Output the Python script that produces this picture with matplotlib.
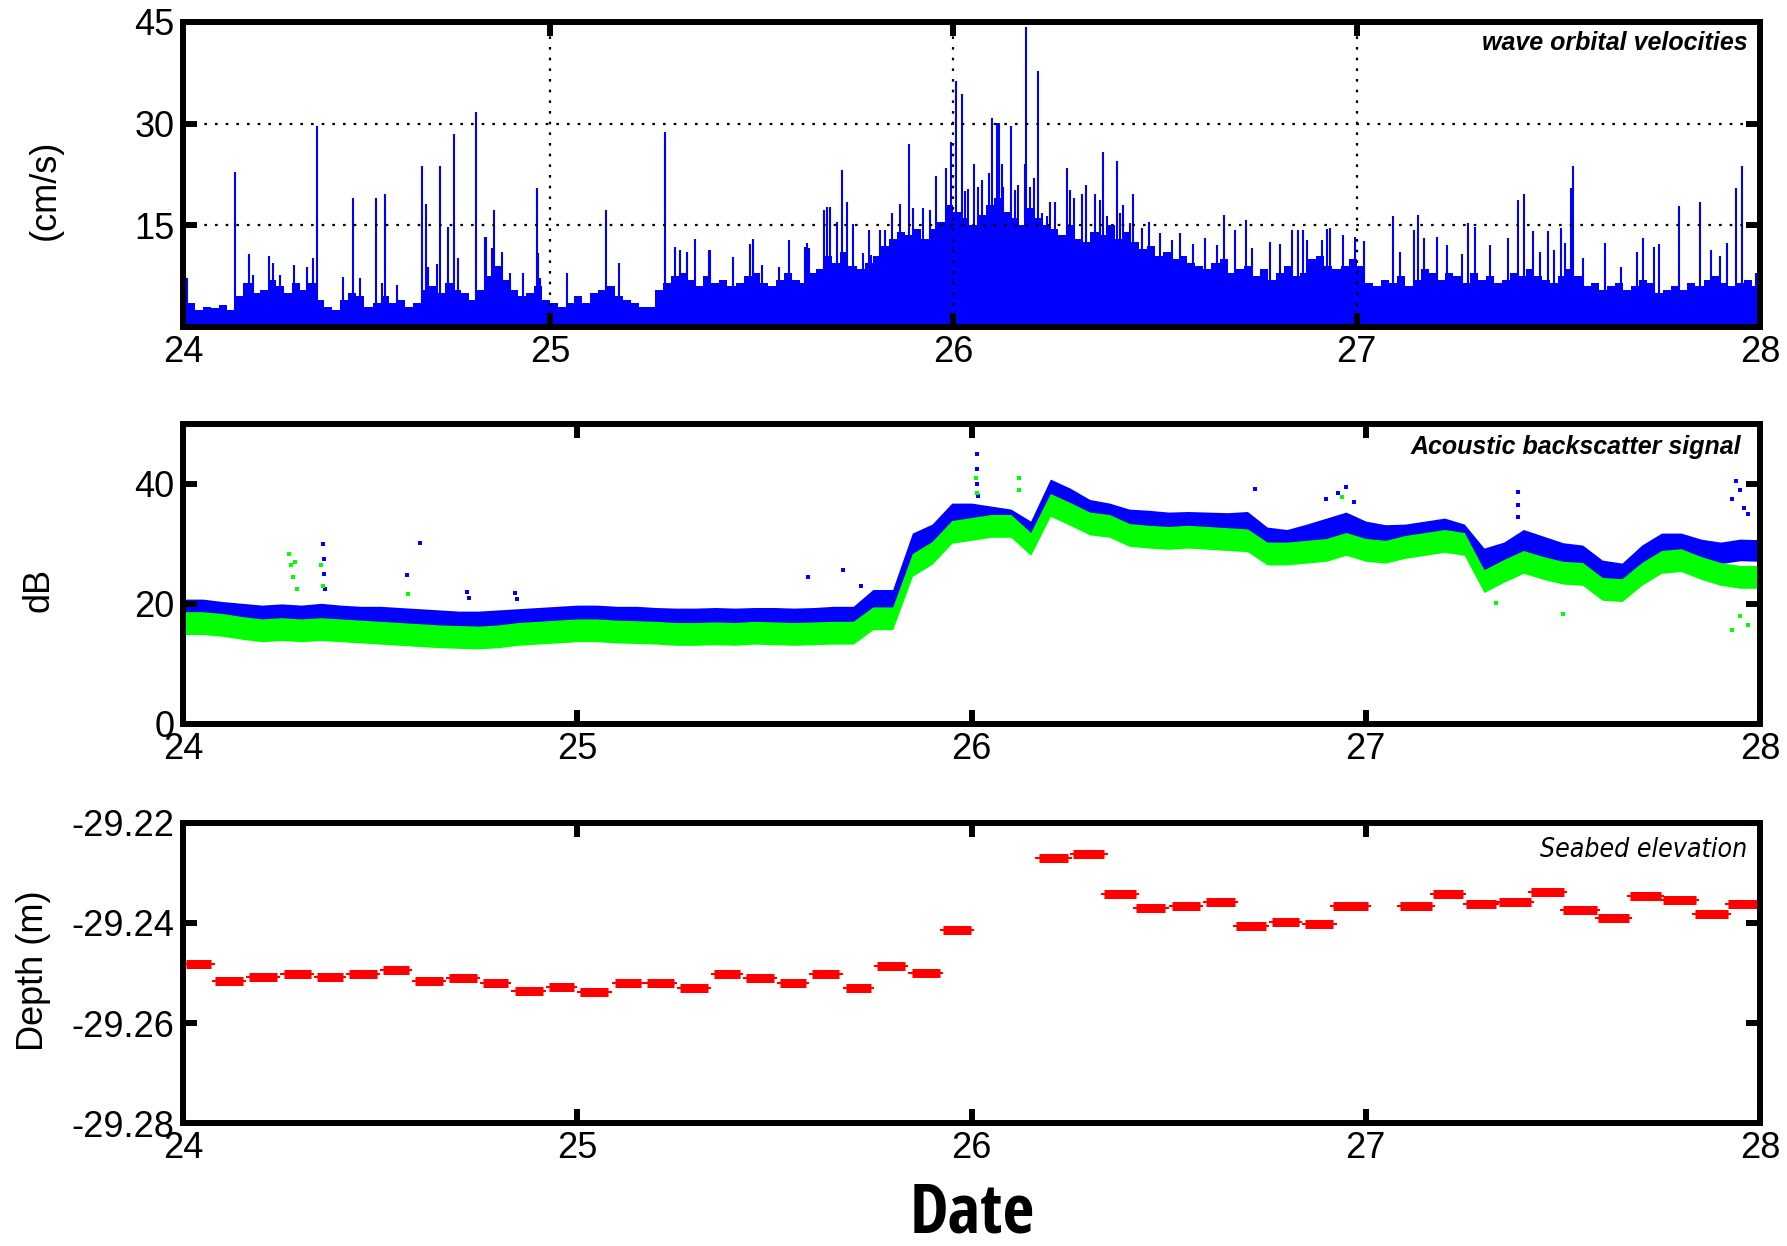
import numpy as np
import matplotlib
matplotlib.use('Agg')
import matplotlib.pyplot as plt
from matplotlib import font_manager
from matplotlib.font_manager import FontProperties
from matplotlib.textpath import TextPath

# ---------------- wave orbital velocities (cm/s), 0.02-day bins from day 24.08
vel_start = 24.08
vel_step = 0.02
vel_day24 = [2.5, 3.5, 2.5, 3.0, 2.8, 3.2, 2.5, 4.5, 6.5, 5.0, 5.5, 7.0, 6.0, 5.0, 6.5, 5.5,
             6.5, 4.0, 3.0, 2.5, 4.0, 5.0, 4.5, 3.0, 3.5, 4.5, 3.5, 4.0, 3.0, 3.5, 5.5, 6.0,
             5.0, 6.5, 5.5, 5.0, 4.0, 5.5, 7.5, 9.0, 7.0, 5.5, 4.5, 5.0, 6.0, 4.0]
vel_day25 = [3.5, 3.0, 3.5, 4.5, 3.5, 5.0, 5.5, 6.0, 4.5, 4.0, 3.5, 3.0, 3.0, 5.5, 6.5, 7.5,
             8.0, 7.0, 6.0, 7.5, 6.5, 7.0, 6.0, 6.5, 7.5, 8.0, 6.5, 6.0, 7.0, 8.0, 7.0, 6.5,
             8.0, 8.5, 10.5, 9.5, 11.0, 9.0, 8.5, 9.5, 10.5, 12.0, 13.0, 14.0, 13.5, 14.5,
             13.0, 14.5, 15.5, 18.0]
vel_day26 = [17.0, 16.0, 15.0, 16.5, 18.0, 19.0, 17.0, 16.0, 15.0, 17.5, 16.0, 15.0, 14.5,
             13.5, 15.0, 13.0, 12.5, 14.0, 13.5, 15.0, 13.0, 14.0, 12.5, 11.5, 12.0, 10.5,
             11.0, 10.0, 10.5, 9.5, 9.0, 8.5, 9.5, 10.0, 8.0, 8.5, 9.0, 7.5, 8.5, 7.0, 8.0,
             9.0, 7.5, 8.0, 10.0, 10.5, 9.0, 8.5, 9.0, 10.0]
vel_day27 = [9.0, 6.5, 6.0, 7.0, 6.5, 7.5, 6.0, 7.0, 8.5, 8.0, 7.0, 8.0, 7.5, 6.5, 8.0, 7.0,
             7.5, 6.5, 7.0, 8.0, 7.5, 8.5, 7.5, 7.0, 6.5, 7.5, 8.5, 7.5, 6.0, 6.5, 5.5, 6.0,
             6.5, 5.5, 6.0, 7.0, 6.5, 5.0, 5.5, 6.0, 5.5, 6.5, 6.0, 7.0, 7.5, 6.5, 6.0, 6.5,
             7.0, 6.0]

# individual velocity peaks above the dense record (day, cm/s)
peak24_t = [24.10, 24.219, 24.254, 24.264, 24.304, 24.314, 24.33, 24.364, 24.373, 24.397,
            24.413, 24.423, 24.487, 24.512, 24.529, 24.568, 24.583, 24.592, 24.62, 24.682,
            24.692, 24.698, 24.721, 24.727, 24.746, 24.762, 24.772, 24.816, 24.839, 24.841,
            24.855, 24.861, 24.88, 24.90, 24.934, 24.967, 24.971, 24.975]
peak24_v = [7.2, 22.9, 10.7, 7.7, 10.4, 9.4, 7.7, 9.2, 5.9, 8.9,
            10.1, 29.6, 7.4, 19.0, 7.2, 19.0, 6.5, 19.6, 6.2, 23.7,
            18.1, 8.9, 9.3, 23.7, 14.8, 28.5, 10.1, 31.7, 13.3, 13.3,
            11.6, 17.3, 11.1, 8.0, 8.0, 20.5, 10.9, 7.2]
peak25_t = [25.041, 25.14, 25.171, 25.285, 25.31, 25.322, 25.339, 25.36, 25.393, 25.397,
            25.454, 25.496, 25.504, 25.525, 25.568, 25.593, 25.632, 25.638, 25.642, 25.68,
            25.686, 25.694, 25.711, 25.723, 25.737, 25.752, 25.777, 25.79, 25.797, 25.818,
            25.83, 25.847, 25.868, 25.891, 25.901, 25.924, 25.942, 25.957, 25.967, 25.975,
            25.983, 25.994]
peak25_v = [8.0, 17.2, 9.5, 28.7, 11.8, 11.3, 11.0, 13.0, 11.3, 11.4,
            10.3, 12.3, 13.0, 9.1, 8.9, 12.8, 11.8, 12.4, 11.6, 17.2,
            17.7, 17.7, 15.5, 23.2, 18.4, 15.2, 10.9, 14.3, 10.6, 14.3,
            14.3, 16.8, 18.1, 27.0, 17.5, 17.5, 17.2, 22.3, 14.9, 13.8,
            23.5, 27.3]
peak26_t = [26.007, 26.021, 26.03, 26.037, 26.05, 26.062, 26.07, 26.089, 26.097, 26.108,
            26.114, 26.12, 26.122, 26.142, 26.153, 26.16, 26.177, 26.181, 26.19, 26.20,
            26.211, 26.219, 26.231, 26.24, 26.252, 26.281, 26.289, 26.30, 26.318, 26.33,
            26.351, 26.364, 26.37, 26.38, 26.395, 26.405, 26.413, 26.42, 26.438, 26.446,
            26.467, 26.484, 26.512, 26.541, 26.562, 26.595, 26.624, 26.653, 26.67, 26.698,
            26.726, 26.74, 26.785, 26.81, 26.84, 26.855, 26.867, 26.876, 26.913, 26.926,
            26.934, 26.967, 26.996]
peak26_v = [36.3, 34.4, 20.0, 20.4, 24.0, 20.7, 21.7, 22.7, 30.9, 30.1,
            30.1, 24.0, 20.7, 29.6, 20.2, 21.0, 24.0, 44.3, 20.7, 22.0,
            37.7, 16.8, 16.3, 18.5, 18.5, 23.4, 20.2, 19.0, 19.6, 21.0,
            19.6, 18.7, 25.8, 16.3, 15.0, 24.5, 16.8, 18.0, 15.3, 19.6,
            14.6, 15.5, 13.8, 12.8, 13.8, 12.3, 13.1, 12.1, 16.5, 14.3,
            15.8, 11.6, 12.6, 12.3, 14.3, 14.3, 14.3, 12.8, 12.8, 14.5,
            14.6, 13.6, 13.3]
peak27_t = [27.018, 27.091, 27.108, 27.141, 27.153, 27.166, 27.199, 27.223, 27.26, 27.277,
            27.294, 27.331, 27.376, 27.401, 27.416, 27.437, 27.455, 27.475, 27.49, 27.506,
            27.517, 27.531, 27.536, 27.56, 27.616, 27.656, 27.695, 27.709, 27.736, 27.75,
            27.80, 27.85, 27.878, 27.90, 27.918, 27.94, 27.955, 27.99]
peak27_v = [12.7, 16.3, 11.0, 14.3, 16.5, 13.1, 13.3, 12.1, 10.8, 15.4,
            14.8, 12.1, 13.1, 18.7, 19.6, 14.2, 11.0, 14.2, 11.3, 14.6,
            12.4, 20.5, 23.7, 10.1, 12.4, 8.9, 11.0, 13.1, 11.8, 12.2,
            17.8, 18.4, 11.3, 10.4, 12.4, 20.5, 23.7, 8.0]

# ---------------- acoustic backscatter (dB), band centres every 0.05 day from day 24
abs_start = 24.0
abs_step = 0.05
blue_db = [19.0, 19.0, 18.6, 18.3, 18.0, 18.2, 18.0, 18.3, 18.0, 17.8, 17.8, 17.6, 17.4, 17.2, 17.0, 17.0, 17.2, 17.4, 17.6, 17.8,
           18.0, 18.0, 17.8, 17.8, 17.6, 17.5, 17.5, 17.6, 17.5, 17.6, 17.6, 17.5, 17.6, 17.8, 17.8, 20.6, 20.6, 30.0, 31.5, 35.0,
           35.0, 34.5, 34.0, 32.0, 39.0, 37.5, 35.6, 35.0, 34.0, 33.8, 33.5, 33.6, 33.5, 33.4, 33.6, 31.0, 30.6, 31.5, 32.5, 33.5,
           32.0, 31.4, 31.5, 32.0, 32.5, 31.5, 27.5, 28.5, 30.6, 29.5, 28.4, 28.0, 25.5, 25.0, 28.0, 30.0, 30.0, 29.0, 28.5, 29.0,
           28.9]
green_db = [16.8, 16.8, 16.5, 16.0, 15.6, 15.8, 15.6, 15.8, 15.6, 15.4, 15.2, 15.0, 14.8, 14.6, 14.5, 14.4, 14.6, 15.0, 15.2, 15.4,
            15.6, 15.6, 15.4, 15.3, 15.2, 15.0, 15.0, 15.1, 15.0, 15.2, 15.1, 15.0, 15.1, 15.2, 15.2, 17.6, 17.6, 26.5, 28.5, 32.0,
            32.5, 33.0, 33.0, 30.0, 36.5, 35.0, 33.4, 33.0, 31.5, 31.2, 31.0, 31.2, 31.0, 30.8, 30.6, 28.4, 28.4, 28.7, 29.0, 30.0,
            29.0, 28.7, 29.5, 30.0, 30.5, 30.0, 23.8, 25.5, 27.0, 26.0, 25.2, 25.0, 22.5, 22.3, 25.0, 27.0, 27.3, 26.0, 25.0, 24.5,
            24.5]
blue_spread = 1.8
green_spread = 1.9

blue_out_t = [24.355, 24.357, 24.358, 24.36, 24.567, 24.60, 24.72, 24.725, 24.843, 24.848,
              25.586, 25.674, 25.72, 26.014, 26.014, 26.015, 26.016, 26.72, 26.90, 26.93,
              26.95, 26.97, 27.385, 27.386, 27.387, 27.93, 27.94, 27.95, 27.96, 27.97]
blue_out_v = [30.0, 27.5, 25.0, 22.5, 24.9, 30.1, 22.0, 21.0, 21.8, 20.8,
              24.5, 25.6, 23.0, 45.0, 42.5, 40.0, 38.0, 39.2, 37.5, 38.5,
              39.5, 37.0, 38.6, 36.5, 34.5, 37.5, 40.5, 39.0, 36.0, 35.0]
green_out_t = [24.27, 24.275, 24.28, 24.285, 24.29, 24.35, 24.355, 24.571, 26.012, 26.013,
               26.12, 26.121, 26.94, 27.33, 27.50, 27.93, 27.95, 27.97]
green_out_v = [28.4, 26.5, 24.5, 27.0, 22.5, 26.5, 23.0, 21.7, 41.0, 38.5,
               41.0, 39.0, 37.8, 20.1, 18.4, 15.6, 18.0, 16.5]

# ---------------- seabed elevation (m), one level per ~2 h burst
seg_start = [24.00, 24.073, 24.16, 24.247, 24.333, 24.413, 24.50, 24.58, 24.667, 24.753,
             24.833, 24.92, 25.00, 25.087, 25.17, 25.253, 25.34, 25.42, 25.507, 25.587,
             25.673, 25.753, 25.84, 25.92, 26.162, 26.25, 26.328, 26.41, 26.50, 26.588,
             26.662, 26.754, 26.838, 26.91, 27.078, 27.162, 27.246, 27.331, 27.412, 27.493,
             27.581, 27.662, 27.746, 27.827, 27.912]
seg_end = [24.08, 24.16, 24.247, 24.333, 24.413, 24.50, 24.58, 24.667, 24.753, 24.833,
           24.92, 25.00, 25.087, 25.17, 25.253, 25.34, 25.42, 25.507, 25.587, 25.673,
           25.753, 25.84, 25.927, 26.007, 26.254, 26.345, 26.426, 26.50, 26.588, 26.676,
           26.754, 26.838, 26.926, 27.014, 27.176, 27.254, 27.338, 27.426, 27.511, 27.595,
           27.676, 27.757, 27.845, 27.926, 28.014]
seg_depth = [-29.2481, -29.2515, -29.2507, -29.2501, -29.2507, -29.2501, -29.2493, -29.2515, -29.2510, -29.2519,
             -29.2535, -29.2527, -29.2538, -29.2519, -29.2519, -29.2530, -29.2502, -29.2510, -29.2519, -29.2502,
             -29.2530, -29.2485, -29.2499, -29.2415, -29.2271, -29.2262, -29.2342, -29.2371, -29.2366, -29.2359,
             -29.2407, -29.2398, -29.2402, -29.2367, -29.2367, -29.2343, -29.2363, -29.2359, -29.2339, -29.2375,
             -29.2390, -29.2347, -29.2354, -29.2382, -29.2362]

day_ticks = [24, 25, 26, 27, 28]
day_labels = ['24', '25', '26', '27', '28']

plt.rcParams['font.family'] = ['Liberation Sans', 'DejaVu Sans']
plt.rcParams['axes.unicode_minus'] = False

LATIN = ('Liberation Sans', 'DejaVu Sans', 'Noto Sans', 'Roboto', 'Open Sans', 'Lato', 'Inter', 'Arial')


def pick_font(text, wmin, wmax, italic, target_ratio, target_px, fallback):
    # choose the installed face whose width/height for this text best matches the reference
    best = None
    seen = set()
    for f in font_manager.fontManager.ttflist:
        if f.fname in seen or not f.name.startswith(LATIN) or 'Mono' in f.name or 'CJK' in f.name:
            continue
        if f.name not in LATIN and not ('Condensed' in f.name or 'Narrow' in f.name):
            continue
        seen.add(f.fname)
        w = f.weight if isinstance(f.weight, int) else font_manager.weight_dict.get(f.weight, 400)
        if w < wmin or w > wmax:
            continue
        if (f.style != 'normal') != italic:
            continue
        try:
            ext = TextPath((0, 0), text, size=100, prop=FontProperties(fname=f.fname)).get_extents()
        except Exception:
            continue
        if ext.height <= 0:
            continue
        score = abs(ext.width / ext.height - target_ratio)
        if best is None or score < best[0]:
            best = (score, f.fname, ext.height)
    if best is None:
        return fallback
    return FontProperties(fname=best[1], size=target_px * 72.0 / best[2])


date_font = pick_font('Date', 600, 1000, False, 2.2, 50,
                      FontProperties(family='Liberation Sans', weight='bold', size=40))
seabed_font = pick_font('Seabed elevation', 400, 600, True, 10.2, 20.5,
                        FontProperties(family='Liberation Sans', style='italic', size=18))

BLUE = '#0000ff'
GREEN = '#00ff00'
RED = '#ff0000'

fig = plt.figure(figsize=(17.87, 12.46), dpi=100)
left, width = 0.1024, 0.8825
ax1 = fig.add_axes([left, 0.7376, width, 0.2448])
ax2 = fig.add_axes([left, 0.4190, width, 0.2408])
ax3 = fig.add_axes([left, 0.0987, width, 0.2408])


def matlab_box(ax):
    for s in ax.spines.values():
        s.set_linewidth(4.3)
    ax.tick_params(direction='in', length=10, width=4.3, top=True, right=True,
                   labelsize=26, pad=6)


# ---- top: wave orbital velocities
vel = np.concatenate([vel_day24, vel_day25, vel_day26, vel_day27])
edges = vel_start + vel_step * np.arange(len(vel) + 1)
ax1.stairs(vel, edges, fill=True, color=BLUE, baseline=0, zorder=1)
peak_t = peak24_t + peak25_t + peak26_t + peak27_t
peak_v = peak24_v + peak25_v + peak26_v + peak27_v
ax1.vlines(peak_t, 0, peak_v, color=BLUE, linewidth=1.5, zorder=1.5)
ax1.set_xlim(24.09, 28)
ax1.set_ylim(0, 45)
ax1.set_xticks([24.09, 25, 26, 27, 28])
ax1.set_xticklabels(day_labels)
ax1.set_yticks([15, 30, 45])
ax1.set_axisbelow(False)
ax1.grid(True, color='black', linestyle=(0, (1.2, 3.6)), linewidth=1.6)
matlab_box(ax1)
ax1.set_ylabel('(cm/s)', fontsize=26)
ax1.yaxis.set_label_coords(-0.076, 0.45)
ax1.text(0.992, 0.93, 'wave orbital velocities', transform=ax1.transAxes,
         ha='right', va='center', fontsize=18, fontweight='bold', fontstyle='italic')

# ---- middle: acoustic backscatter
abs_t = abs_start + abs_step * np.arange(len(blue_db))
blue = np.array(blue_db)
green = np.array(green_db)
ax2.fill_between(abs_t, blue - blue_spread, blue + blue_spread, color=BLUE, linewidth=0, zorder=1)
ax2.scatter(blue_out_t, blue_out_v, s=5, marker='s', color=BLUE, linewidths=0, zorder=1.2)
ax2.fill_between(abs_t, green - green_spread, green + green_spread, color=GREEN, linewidth=0, zorder=1.1)
ax2.scatter(green_out_t, green_out_v, s=5, marker='s', color=GREEN, linewidths=0, zorder=1.2)
ax2.set_xlim(24, 28)
ax2.set_ylim(0, 50)
ax2.set_xticks(day_ticks)
ax2.set_xticklabels(day_labels)
ax2.set_yticks([0, 20, 40])
matlab_box(ax2)
ax2.set_ylabel('dB', fontsize=26)
ax2.yaxis.set_label_coords(-0.080, 0.447)
ax2.text(0.988, 0.923, 'Acoustic backscatter signal', transform=ax2.transAxes,
         ha='right', va='center', fontsize=18, fontweight='bold', fontstyle='italic')

# ---- bottom: seabed elevation
s0 = np.array(seg_start)
s1 = np.array(seg_end)
ax3.hlines(seg_depth, s0, s1, color=RED, linewidth=1.5, zorder=1)
ax3.hlines(seg_depth, s0 + 0.008, s1 - 0.008, color=RED, linewidth=6.5, zorder=1.1)
ax3.set_xlim(24, 28)
ax3.set_ylim(-29.28, -29.22)
ax3.set_xticks(day_ticks)
ax3.set_xticklabels(day_labels)
ax3.set_yticks([-29.28, -29.26, -29.24, -29.22])
ax3.set_yticklabels(['-29.28', '-29.26', '-29.24', '-29.22'])
matlab_box(ax3)
ax3.set_ylabel('Depth (m)', fontsize=26)
ax3.yaxis.set_label_coords(-0.084, 0.507)
ax3.text(0.992, 0.91, 'Seabed elevation', transform=ax3.transAxes,
         ha='right', va='center', fontproperties=seabed_font)

fig.text(0.544, 0.011, 'Date', ha='center', va='baseline', fontproperties=date_font)

fig.savefig('out.png', dpi=100, facecolor='white')
